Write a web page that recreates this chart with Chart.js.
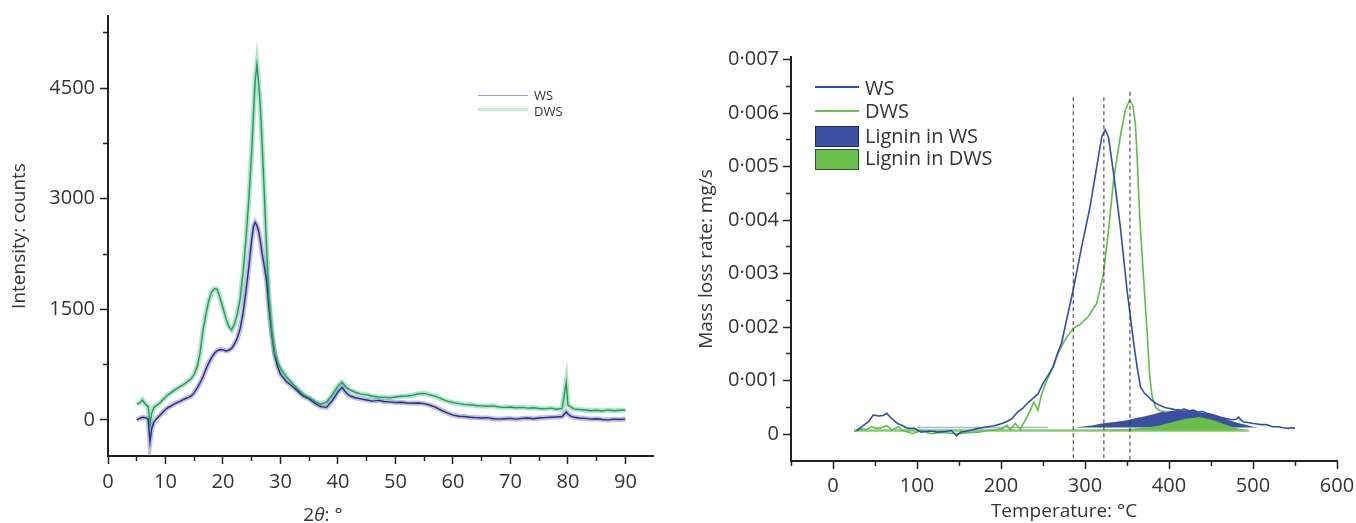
<!DOCTYPE html>
<html>
<head>
<meta charset="utf-8">
<script src="https://cdn.jsdelivr.net/npm/chart.js@4.4.0/dist/chart.umd.min.js"></script>
<style>
body { margin: 0; width: 1356px; height: 523px; background: #fff; position: relative; overflow: hidden; font-family: 'Open Sans', sans-serif; color: #333; }
canvas { position: absolute; top: 0; }
#xrdCanvas { left: 0; }
#tgaCanvas { left: 680px; }
.lab { position: absolute; white-space: nowrap; line-height: 1; }
.swatch { position: absolute; box-sizing: border-box; }
</style>
</head>
<body>
<canvas id="xrdCanvas" width="680" height="523"></canvas>
<canvas id="tgaCanvas" width="676" height="523"></canvas>

<div class="lab" style="left:223px;top:505px;width:200px;text-align:center;font-size:19px">2<i>θ</i>: °</div>

<div class="swatch" style="left:478px;top:95px;width:50px;height:1px;background:#9d9dd6"></div>
<div class="swatch" style="left:478px;top:108px;width:50px;height:3px;background:#c6ecd6"></div>
<div class="lab" style="left:534px;top:89px;font-size:13px">WS</div>
<div class="lab" style="left:534px;top:105px;font-size:13px">DWS</div>

<div class="swatch" style="left:815px;top:86px;width:44px;height:2px;background:#2f4db0"></div>
<div class="swatch" style="left:815px;top:110px;width:44px;height:2px;background:#6cc057"></div>
<div class="swatch" style="left:815px;top:126px;width:44px;height:21px;background:#3c51a4;border:1px solid #1d2a5c"></div>
<div class="swatch" style="left:815px;top:149px;width:44px;height:21px;background:#6abf4b;border:1px solid #2e5a22"></div>
<div class="lab" style="left:865px;top:78px;font-size:20px">WS</div>
<div class="lab" style="left:865px;top:101px;font-size:20px">DWS</div>
<div class="lab" style="left:865px;top:126px;font-size:20px">Lignin in WS</div>
<div class="lab" style="left:865px;top:148px;font-size:20px">Lignin in DWS</div>

<script>
// XRD pattern (left)
var xrdAngle = [
    5, 5.5, 6, 6.5, 7, 7.3, 7.6, 8, 8.5, 9,
    9.5, 10, 10.5, 11, 11.5, 12, 12.5, 13, 13.5, 14,
    14.5, 15, 15.5, 16, 16.5, 17, 17.5, 18, 18.5, 19,
    19.5, 20, 20.5, 21, 21.5, 22, 22.5, 23, 23.5, 24,
    24.5, 25, 25.3, 25.6, 25.9, 26.2, 26.5, 26.8, 27.2, 27.6,
    28, 28.5, 29, 29.5, 30, 31, 32, 33, 34, 35,
    36, 37, 38, 39, 40, 40.7, 41.5, 42, 43, 44,
    45, 46, 47, 48, 49, 50, 51, 52, 53, 54,
    55, 56, 57, 58, 59, 60, 61, 62, 63, 64,
    65, 66, 67, 68, 69, 70, 71, 72, 73, 74,
    75, 76, 77, 78, 79, 79.7, 80, 80.5, 81, 82,
    83, 84, 85, 86, 87, 88, 89, 90
];
var wsCounts = [
    0, 20, 35, 30, 10, -300, -120, -30, 20, 60,
    100, 140, 170, 190, 215, 235, 250, 270, 290, 305,
    325, 370, 430, 500, 580, 680, 770, 840, 900, 940,
    955, 950, 935, 945, 970, 1030, 1110, 1240, 1450, 1750,
    2080, 2450, 2620, 2680, 2640, 2560, 2430, 2260, 2080, 1880,
    1520, 1150, 880, 720, 620, 520, 460, 390, 320, 285,
    225, 180, 170, 260, 380, 440, 360, 330, 300, 285,
    270, 255, 265, 250, 245, 235, 240, 230, 225, 230,
    220, 200, 170, 130, 95, 65, 50, 45, 35, 30,
    25, 30, 15, 10, 15, 20, 10, 20, 25, 15,
    25, 30, 35, 40, 45, 110, 80, 50, 35, 25,
    20, 10, 15, 5, 0, 10, 5, 10
];
var dwsCounts = [
    215, 230, 270, 215, 180, -60, 90, 170, 200, 230,
    270, 310, 345, 370, 400, 425, 450, 470, 500, 530,
    560, 620, 720, 900, 1200, 1420, 1610, 1730, 1780, 1770,
    1650, 1520, 1380, 1270, 1220, 1300, 1440, 1650, 2000, 2450,
    3000, 3650, 4150, 4600, 4820, 4580, 4250, 3750, 3050, 2300,
    1650, 1180, 900, 790, 700, 590, 500, 420, 340, 300,
    250, 215, 240, 340, 460, 510, 440, 410, 375, 350,
    340, 320, 310, 305, 300, 310, 320, 325, 335, 355,
    360, 340, 320, 285, 255, 235, 220, 210, 205, 195,
    190, 185, 190, 175, 170, 175, 165, 170, 160, 165,
    155, 150, 160, 145, 155, 510, 200, 175, 150, 140,
    135, 125, 130, 120, 135, 125, 130, 135
];
var angleTicks = [0, 10, 20, 30, 40, 50, 60, 70, 80, 90];
var angleMinorTicks = [5, 15, 25, 35, 45, 55, 65, 75, 85];
var countTicks = [0, 1500, 3000, 4500];
var countMinorTicks = [750, 2250, 3750, 5250];

// DTG curves (right)
var wsTemp = [28, 35, 42, 48, 54, 60, 64, 70, 77, 83, 89, 97, 105, 115, 125, 133, 141, 147, 152, 157,
    165, 173, 184, 192, 201, 207, 213, 220, 226, 231, 238, 244, 250, 256, 262, 267, 272, 278, 286, 296,
    306, 314, 320, 324, 328, 334, 342, 350, 358, 362, 366, 371, 375, 379, 384, 389, 395, 401, 407, 413,
    418, 424, 429, 435, 440, 445, 451, 457, 463, 469, 475, 480, 483, 486, 489, 494, 500, 505, 510, 516,
    520, 524, 530, 536, 542, 546, 550];
var wsRate = [0.00007, 0.00015, 0.00023, 0.00036, 0.00034, 0.00035, 0.00039, 0.00029, 0.0002, 0.00016,
    0.00011, 0.00011, 0.00004, 0.00006, 0.00004, 0.00005, 0.00007, -0.00003, 0.00004, 0.00005,
    0.00008, 0.00011, 0.00014, 0.00016, 0.0002, 0.00024, 0.00029, 0.00042, 0.00049, 0.00057,
    0.00067, 0.00075, 0.00095, 0.0011, 0.00126, 0.0015, 0.0017, 0.00213, 0.0027, 0.0035,
    0.00425, 0.005, 0.00556, 0.00569, 0.00555, 0.00488, 0.00388, 0.0027, 0.0017, 0.00126,
    0.00089, 0.00076, 0.00071, 0.00064, 0.00058, 0.00054, 0.0005, 0.00048, 0.00046, 0.00045,
    0.00047, 0.00044, 0.00045, 0.00041, 0.00043, 0.00039, 0.00037, 0.00034, 0.00031, 0.00029,
    0.00027, 0.00028, 0.00032, 0.00026, 0.00023, 0.00022, 0.0002, 0.00019, 0.00018, 0.00018,
    0.00016, 0.00014, 0.00014, 0.00012, 0.00011, 0.00012, 0.00011];
var dwsTemp = [25, 28, 34, 40, 46, 52, 58, 64, 70, 74, 78, 84, 90, 94, 100, 106, 112, 118, 126, 133,
    141, 150, 160, 173, 184, 195, 201, 207, 211, 217, 223, 230, 235, 239, 244, 248, 253, 262, 268, 276,
    286, 294, 304, 314, 322, 328, 334, 342, 348, 353, 357, 360, 362, 365, 369, 374, 377, 380, 384, 388,
    392, 397];
var dwsRate = [0.00005, 0.00006, 0.0001, 0.00009, 0.00014, 0.00011, 0.00012, 0.00016, 0.00008, 0.00011,
    0.00014, 0.00006, 0.00004, 0.00001, 0.00004, 0.00008, 0.00003, 0.00001, 0.00003, 0.00003,
    0.00002, 0.00001, 0.00003, 0.00004, 0.00007, 0.00009, 0.0001, 0.00017, 0.00008, 0.0002,
    0.0001, 0.00029, 0.00045, 0.0006, 0.00045, 0.00073, 0.00095, 0.00126, 0.00151, 0.00176,
    0.00198, 0.00205, 0.0022, 0.00245, 0.003, 0.00382, 0.00475, 0.00556, 0.00606, 0.00624,
    0.00614, 0.0058, 0.0052, 0.0041, 0.0031, 0.0019, 0.0011, 0.0007, 0.0005, 0.00045,
    0.00043, 0.00042];
var ligninWsTemp = [290, 300, 310, 320, 330, 340, 350, 360, 370, 380, 390, 400, 410, 420, 430, 440, 450, 460, 470, 480, 490, 500, 506];
var ligninWsRate = [0.00013, 0.00015, 0.00017, 0.0002, 0.00022, 0.00024, 0.00026, 0.0003, 0.00033, 0.00037, 0.00041, 0.00043,
    0.00045, 0.00045, 0.00043, 0.0004, 0.00038, 0.00033, 0.00027, 0.00022, 0.00018, 0.00014, 0.000125];
var ligninDwsTemp = [290, 320, 350, 370, 380, 390, 400, 410, 420, 430, 436, 445, 455, 465, 475, 485, 493];
var ligninDwsRate = [0.00007, 0.00008, 0.0001, 0.00012, 0.00014, 0.00017, 0.00021, 0.00025, 0.00029, 0.00031, 0.00032,
    0.00029, 0.00025, 0.00019, 0.00014, 0.0001, 0.00007];
var ligninWsBase = 0.000125;
var ligninDwsBase = 0.00007;
var ligninWsBaseTemp = [100, 256];
var ligninDwsBaseTemp = [25, 495];
var peakTemp = [286, 322.5, 353.5];
var peakTop = [0.0063, 0.0063, 0.0064];
var tempTicks = [0, 100, 200, 300, 400, 500, 600];
var tempMinorTicks = [-50, 50, 150, 250, 350, 450, 550];
var rateTicks = [0, 0.001, 0.002, 0.003, 0.004, 0.005, 0.006, 0.007];
var rateMinorTicks = [0.0005, 0.0015, 0.0025, 0.0035, 0.0045, 0.0055, 0.0065];

var FONT = "'Open Sans', sans-serif";
var INK = '#333';
var AXIS = '#222';

function pts(xs, ys) {
    return xs.map(function (x, i) { return { x: x, y: ys[i] }; });
}

function fixSize(prop, size) {
    return function (scale) {
        scale[prop] = size;
        scale.paddingLeft = 0;
        scale.paddingRight = 0;
        scale.paddingTop = 0;
        scale.paddingBottom = 0;
    };
}

function setTicks(values) {
    return function (scale) {
        scale.ticks = values.map(function (v) { return { value: v }; });
    };
}

// axis pair: labelled major ticks + an unlabelled minor-tick axis of zero size
function majorAxis(axis, min, max, size, ticks, tickPad, fmt, title) {
    var s = {
        type: 'linear', axis: axis, position: axis === 'x' ? 'bottom' : 'left', weight: 0,
        min: min, max: max,
        afterFit: fixSize(axis === 'x' ? 'height' : 'width', size),
        afterBuildTicks: setTicks(ticks),
        ticks: {
            autoSkip: false, maxRotation: 0, padding: tickPad,
            color: INK, font: { family: FONT, size: 20 }, callback: fmt
        },
        grid: { drawOnChartArea: false, tickLength: 8, tickWidth: 1.5, tickColor: AXIS },
        border: { color: AXIS, width: 2 }
    };
    if (title) s.title = title;
    return s;
}

function minorAxis(axis, min, max, ticks) {
    return {
        type: 'linear', axis: axis, position: axis === 'x' ? 'bottom' : 'left', weight: -10,
        min: min, max: max,
        afterFit: fixSize(axis === 'x' ? 'height' : 'width', 0),
        afterBuildTicks: setTicks(ticks),
        ticks: { display: false, autoSkip: false },
        grid: { drawOnChartArea: false, tickLength: 5, tickWidth: 1.5, tickColor: AXIS },
        border: { display: false }
    };
}

// XRD chart
var xrdSets = [
    { label: 'DWS', data: pts(xrdAngle, dwsCounts), borderColor: '#1c9f58', borderWidth: 1.4, order: 0 },
    { label: 'WS', data: pts(xrdAngle, wsCounts), borderColor: '#2a2a8a', borderWidth: 1.4, order: 1 },
    { label: 'DWS band', data: pts(xrdAngle, dwsCounts), borderColor: 'rgba(40,175,100,0.35)', borderWidth: 5, order: 2 },
    { label: 'WS band', data: pts(xrdAngle, wsCounts), borderColor: 'rgba(70,70,170,0.35)', borderWidth: 5, order: 3 }
];
xrdSets.forEach(function (d) { d.xAxisID = 'x'; d.yAxisID = 'y'; });

new Chart(document.getElementById('xrdCanvas').getContext('2d'), {
    type: 'line',
    data: { datasets: xrdSets },
    options: {
        responsive: false,
        animation: false,
        devicePixelRatio: 1,
        layout: { padding: { top: 16, right: 27, bottom: 0, left: 0 } },
        elements: { point: { radius: 0 }, line: { tension: 0 } },
        plugins: { legend: { display: false }, tooltip: { enabled: false } },
        scales: {
            x: majorAxis('x', 0, 94.8, 67, angleTicks, 6, function (v) { return v; }),
            y: majorAxis('y', -490, 5480, 108, countTicks, 5, function (v) { return v; },
                { display: true, text: 'Intensity: counts', color: INK, font: { family: FONT, size: 19 }, padding: { top: 8, bottom: 0 } }),
            xm: minorAxis('x', 0, 94.8, angleMinorTicks),
            ym: minorAxis('y', -490, 5480, countMinorTicks)
        }
    }
});

// DTG chart
var tgaSets = [
    { label: 'WS', data: pts(wsTemp, wsRate), borderColor: '#2f4db0', borderWidth: 1.6, order: 1 },
    { label: 'DWS', data: pts(dwsTemp, dwsRate), borderColor: '#5fbe47', borderWidth: 1.6, order: 2 },
    {
        label: 'Lignin in DWS', data: pts(ligninDwsTemp, ligninDwsRate), borderWidth: 0, borderColor: '#6abf4b',
        backgroundColor: '#6abf4b', fill: { value: ligninDwsBase }, order: 3
    },
    {
        label: 'Lignin in WS', data: pts(ligninWsTemp, ligninWsRate), borderWidth: 0, borderColor: '#3b4fa2',
        backgroundColor: '#3b4fa2', fill: { value: ligninWsBase }, order: 4
    },
    { label: 'DWS base', data: pts(ligninDwsBaseTemp, [ligninDwsBase, ligninDwsBase]), borderColor: '#86cc6e', borderWidth: 2.5, order: 5 },
    { label: 'WS base', data: pts(ligninWsBaseTemp, [ligninWsBase, ligninWsBase]), borderColor: '#a9b3e0', borderWidth: 1.5, order: 6 }
];
peakTemp.forEach(function (t, i) {
    tgaSets.push({
        label: 'peak ' + t,
        data: [{ x: t, y: peakTop[i] }, { x: t, y: -0.0005 }],
        borderColor: '#333', borderWidth: 1, borderDash: [4, 3], order: 0
    });
});
tgaSets.forEach(function (d) { d.xAxisID = 'x'; d.yAxisID = 'y'; });

function rateLabel(v) {
    if (Math.abs(v) < 1e-9) return '0';
    return v.toFixed(3).replace('.', '·');
}

new Chart(document.getElementById('tgaCanvas').getContext('2d'), {
    type: 'line',
    data: { datasets: tgaSets },
    options: {
        responsive: false,
        animation: false,
        devicePixelRatio: 1,
        layout: { padding: { top: 57, right: 19, bottom: 0, left: 0 } },
        elements: { point: { radius: 0 }, line: { tension: 0 } },
        plugins: { legend: { display: false }, tooltip: { enabled: false } },
        scales: {
            x: majorAxis('x', -50, 600, 62, tempTicks, 5, function (v) { return v; },
                { display: true, text: 'Temperature: °C', color: INK, font: { family: FONT, size: 19 }, padding: { top: 0, bottom: 0 } }),
            y: majorAxis('y', -0.0005, 0.00705, 111, rateTicks, 4, rateLabel,
                { display: true, text: 'Mass loss rate: mg/s', color: INK, font: { family: FONT, size: 19 }, padding: { top: 15, bottom: 0 } }),
            xm: minorAxis('x', -50, 600, tempMinorTicks),
            ym: minorAxis('y', -0.0005, 0.00705, rateMinorTicks)
        }
    }
});
</script>
</body>
</html>
